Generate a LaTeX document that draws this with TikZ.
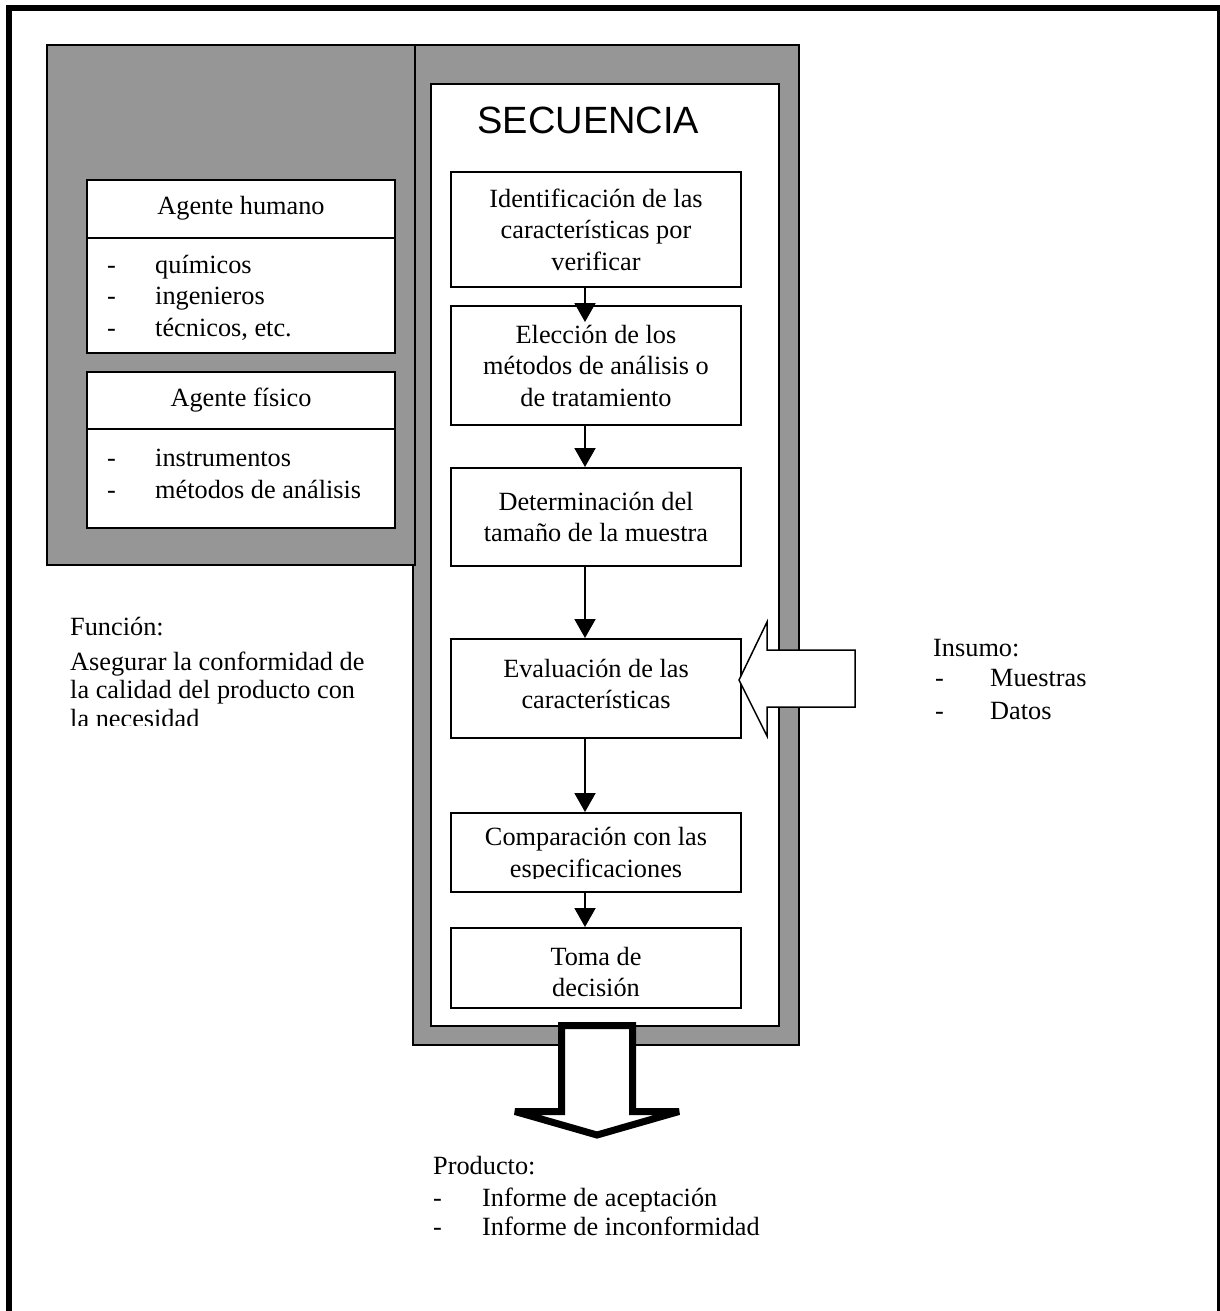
\documentclass[tikz,border=0pt]{standalone}
\usepackage{fontspec}
\setmainfont{Liberation Serif}
\newfontfamily\headfont{Liberation Sans}
\usetikzlibrary{arrows.meta,calc}
\definecolor{panel}{RGB}{150,150,150}

\begin{document}
\begin{tikzpicture}[x=1pt,y=-1pt,
  txt/.style={font=\fontsize{26.3}{31.5}\selectfont, inner sep=0pt},
  stepbox/.style={draw, line width=2pt, fill=white, minimum width=290pt,
    align=center, inner sep=0pt, font=\fontsize{26.3}{31.5}\selectfont},
  agentbox/.style={draw, line width=2pt, fill=white, minimum width=308pt, inner sep=0pt},
  panelbox/.style={draw, line width=2pt, fill=panel},
  flow/.style={line width=2pt, -{Triangle[width=21pt,length=19pt]}},
  bigarrow/.style={draw, fill=white, line width=1.5pt},
]
\useasboundingbox (0,0) rectangle (1220,1311);

% page frame (open at the bottom)
\begin{scope}
  \clip (0,0) rectangle (1220,1311);
  \draw[line width=6pt] (9,8) rectangle (1220,1350);
\end{scope}

% grey panels
\draw[panelbox] (413,45) rectangle (799,1045);
\draw[panelbox] (47,45) rectangle (415,565);

% white sequence area
\node[draw, line width=2pt, fill=white, minimum width=348pt, minimum height=942pt, inner sep=0pt]
  (seq) at (605,555) {};
\node[font=\headfont\fontsize{38}{40}\selectfont, inner sep=0pt, anchor=base]
  (title) at (588.5,133.3) {SECUENCIA};

% agents
\node[agentbox, minimum height=173pt] (hum) at (241,266.5) {};
\coordinate (hd) at (0,238);
\draw[line width=2pt] (hum.west |- hd) -- (hum.east |- hd);
\node[txt, anchor=base] (humT) at (241,214) {Agente humano};
\node[txt, anchor=base west] (h1d) at (107,273) {-};
\node[txt, anchor=base west] (h1) at (155,273) {químicos};
\node[txt, anchor=base west] (h2d) at (107,304) {-};
\node[txt, anchor=base west] (h2) at (155,304) {ingenieros};
\node[txt, anchor=base west] (h3d) at (107,336) {-};
\node[txt, anchor=base west] (h3) at (155,336) {técnicos, etc.};

\node[agentbox, minimum height=156pt] (fis) at (241,450) {};
\coordinate (fd) at (0,429);
\draw[line width=2pt] (fis.west |- fd) -- (fis.east |- fd);
\node[txt, anchor=base] (fisT) at (241,406) {Agente físico};
\node[txt, anchor=base west] (f1d) at (107,466) {-};
\node[txt, anchor=base west] (f1) at (155,466) {instrumentos};
\node[txt, anchor=base west] (f2d) at (107,498) {-};
\node[txt, anchor=base west] (f2) at (155,498) {métodos de análisis};

% sequence steps
\node[stepbox, minimum height=115pt] (b1) at (596,229.5)
  {Identificación de las\\características por\\verificar};
\node[stepbox, minimum height=119pt] (b2) at (596,365.5)
  {Elección de los\\métodos de análisis o\\de tratamiento};
\node[stepbox, minimum height=98pt] (b3) at (596,517)
  {Determinación del\\tamaño de la muestra};
\node[stepbox, minimum height=99pt] (b4) at (596,688.5) {};
\node[txt, align=center] (b4t) at (596,684) {Evaluación de las\\características};
\node[stepbox, minimum height=79pt] (b5) at (596,852.5) {};
\begin{scope}
  \clip (451,813) rectangle (741,878);
  \node[txt, align=center] (b5t) at (596,855) {Comparación con las\\especificaciones};
\end{scope}
\node[stepbox, minimum height=80pt] (b6) at (596,968) {};
\node[txt, align=center] (b6t) at (596,972) {Toma de\\decisión};

% flow arrows
\coordinate (ax) at (585,0);
\draw[flow, shorten >=-17pt] (b1.south -| ax) -- (b2.north -| ax);
\draw[flow] (b2.south -| ax) -- (b3.north -| ax);
\draw[flow] (b3.south -| ax) -- (b4.north -| ax);
\draw[flow] (b4.south -| ax) -- (b5.north -| ax);
\draw[flow] (b5.south -| ax) -- (b6.north -| ax);

% input arrow
\draw[bigarrow] (739,680) -- (767,622) -- (767,650) -- (855,650) -- (855,707)
  -- (767,707) -- (767,736) -- cycle;
\node[txt, anchor=base west] (ins) at (933,656) {Insumo:};
\node[txt, anchor=base west] (i1d) at (935,686) {-};
\node[txt, anchor=base west] (i1) at (990,686) {Muestras};
\node[txt, anchor=base west] (i2d) at (935,719) {-};
\node[txt, anchor=base west] (i2) at (990,719) {Datos};

% output arrow
\draw[fill=white, line width=7pt, line join=miter, miter limit=3]
  (561.5,1025.5) -- (632.5,1025.5) -- (632.5,1111.5) -- (679,1111.5)
  -- (597,1135) -- (515,1111.5) -- (561.5,1111.5) -- cycle;
\node[txt, anchor=base west] (prod) at (433,1174) {Producto:};
\node[txt, anchor=base west] (p1d) at (433,1206) {-};
\node[txt, anchor=base west] (p1) at (482,1206) {Informe de aceptación};
\node[txt, anchor=base west] (p2d) at (433,1235) {-};
\node[txt, anchor=base west] (p2) at (482,1235) {Informe de inconformidad};

% function statement
\node[txt, anchor=base west] (fun) at (70,635) {Función:};
\begin{scope}
  \clip (40,600) rectangle (410,725);
  \node[txt, anchor=base west] (fun1) at (70,670) {Asegurar la conformidad de};
  \node[txt, anchor=base west] (fun2) at (70,698) {la calidad del producto con};
  \node[txt, anchor=base west] (fun3) at (70,727) {la necesidad};
\end{scope}
\end{tikzpicture}
\end{document}
